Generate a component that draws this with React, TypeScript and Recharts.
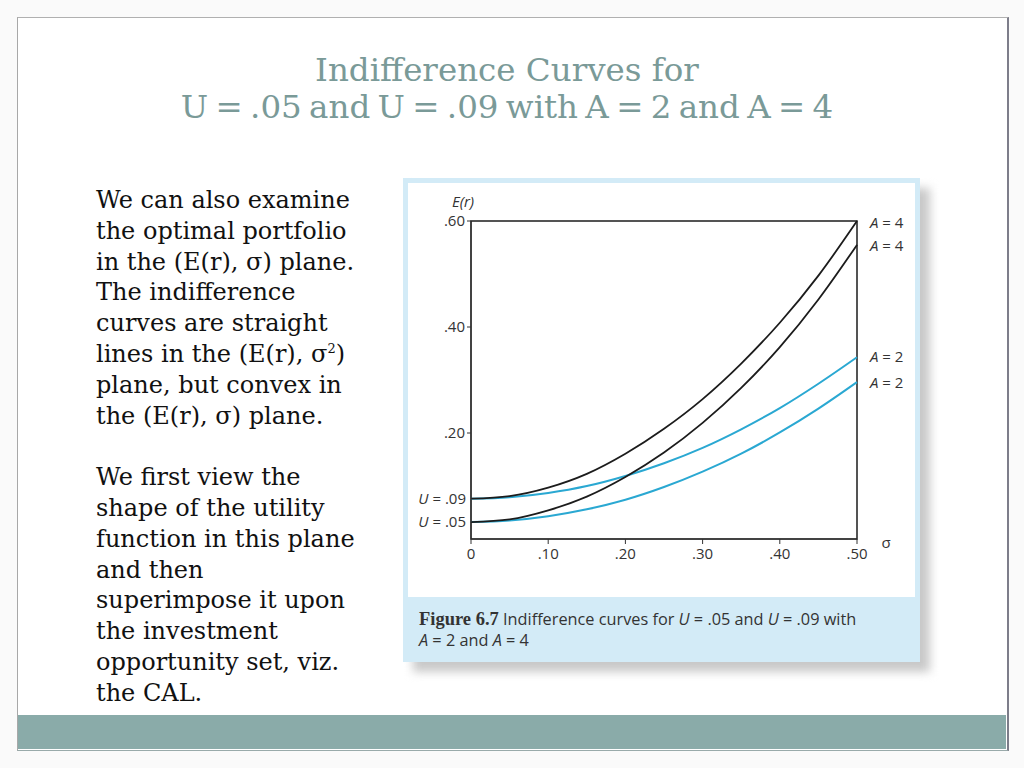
import React from "react";
import { LineChart, Line, XAxis, YAxis, ReferenceArea, ReferenceDot, Label } from "recharts";

// sigma on the x axis, E(r)
const sigma = [0, 0.05, 0.1, 0.15, 0.2, 0.25, 0.3, 0.35, 0.4, 0.45, 0.5];
const a4u09 = [0.076, 0.081, 0.097, 0.123, 0.161, 0.208, 0.264, 0.331, 0.408, 0.497, 0.6];
const a4u05 = [0.032, 0.037, 0.054, 0.08, 0.117, 0.163, 0.219, 0.285, 0.362, 0.452, 0.555];
const a2u09 = [0.076, 0.079, 0.087, 0.1, 0.119, 0.143, 0.172, 0.207, 0.247, 0.293, 0.343];
const a2u05 = [0.032, 0.035, 0.043, 0.056, 0.074, 0.098, 0.127, 0.161, 0.201, 0.246, 0.296];

const xTicks = [0, 0.1, 0.2, 0.3, 0.4, 0.5];
const yTicks = [0.2, 0.4, 0.6];
const uLabels = [".09", ".05"];
const endLabels = ["4", "4", "2", "2"];

const leftText1 = [
  "We can also examine",
  "the optimal portfolio",
  "in the (E(r), \u03c3) plane.",
  "The indifference",
  "curves are straight",
];
const leftText2 = [
  "We first view the",
  "shape of the utility",
  "function in this plane",
  "and then",
  "superimpose it upon",
  "the investment",
  "opportunity set, viz.",
  "the CAL.",
];

const data = sigma.map((s, i) => ({
  s,
  a4u09: a4u09[i],
  a4u05: a4u05[i],
  a2u09: a2u09[i],
  a2u05: a2u05[i],
}));

const BLACK = "#1c1c1c";
const BLUE = "#2aa8d2";
const FONT = "'Open Sans', 'Noto Sans', sans-serif";
const fmt = (v: number) => (v === 0 ? "0" : "." + Math.round(v * 100).toString().padStart(2, "0"));

const starts = [a4u09[0], a4u05[0]];
const ends = [
  { y: a4u09[a4u09.length - 1], dy: 2 },
  { y: a4u05[a4u05.length - 1], dy: 1 },
  { y: a2u09[a2u09.length - 1], dy: 0 },
  { y: a2u05[a2u05.length - 1], dy: 1 },
];

function Chart() {
  return (
    <LineChart
      width={512}
      height={415}
      data={data}
      margin={{ top: 38, right: 58, left: 38, bottom: 29 }}
      style={{ fontFamily: FONT }}
    >
      <XAxis
        dataKey="s"
        type="number"
        domain={[0, 0.5]}
        ticks={xTicks}
        tickFormatter={fmt}
        tick={{ fill: "#333", fontSize: 15 }}
        stroke="#333"
        tickSize={5}
        tickMargin={4}
        height={30}
      >
        <Label
          content={({ viewBox }: any) => (
            <text x={viewBox.x + viewBox.width + 29} y={viewBox.y + 9} fill="#333" fontSize={15} textAnchor="middle">
              σ
            </text>
          )}
        />
      </XAxis>
      <YAxis
        type="number"
        domain={[0, 0.6]}
        ticks={yTicks}
        tickFormatter={fmt}
        tick={{ fill: "#333", fontSize: 15 }}
        stroke="#333"
        tickSize={4}
        tickMargin={2}
        width={30}
      >
        <Label
          content={({ viewBox }: any) => (
            <text x={viewBox.x + viewBox.width - 8} y={viewBox.y - 14} fill="#333" fontSize={15} fontStyle="italic" textAnchor="middle">
              E(r)
            </text>
          )}
        />
      </YAxis>
      <ReferenceArea x1={0} x2={0.5} y1={0} y2={0.6} fill="none" stroke={BLACK} strokeWidth={1.5} ifOverflow="visible" />
      <Line dataKey="a2u05" type="monotone" stroke={BLUE} strokeWidth={2} dot={false} isAnimationActive={false} />
      <Line dataKey="a2u09" type="monotone" stroke={BLUE} strokeWidth={2} dot={false} isAnimationActive={false} />
      <Line dataKey="a4u05" type="monotone" stroke={BLACK} strokeWidth={1.8} dot={false} isAnimationActive={false} />
      <Line dataKey="a4u09" type="monotone" stroke={BLACK} strokeWidth={1.8} dot={false} isAnimationActive={false} />
      {starts.map((u, i) => (
        <ReferenceDot key={"u" + i} x={0} y={u} r={0} fill="none" stroke="none" ifOverflow="visible">
          <Label
            content={({ viewBox }: any) => (
              <text x={viewBox.x - 5} y={viewBox.y + 5} fill="#333" fontSize={15} textAnchor="end">
                <tspan fontStyle="italic">U</tspan> = {uLabels[i]}
              </text>
            )}
          />
        </ReferenceDot>
      ))}
      {ends.map((e, i) => (
        <ReferenceDot key={"e" + i} x={0.5} y={e.y} r={0} fill="none" stroke="none" ifOverflow="visible">
          <Label
            content={({ viewBox }: any) => (
              <text x={viewBox.x + 13} y={viewBox.y + 5 + e.dy} fill="#333" fontSize={15} textAnchor="start">
                <tspan fontStyle="italic">A</tspan> = {endLabels[i]}
              </text>
            )}
          />
        </ReferenceDot>
      ))}
    </LineChart>
  );
}

export default function App() {
  const serif = "'DejaVu Serif', 'Liberation Serif', serif";
  const lineH = 30.8;
  return (
    <div style={{ position: "absolute", left: 0, top: 0, width: 1024, height: 768, background: "#fafafa", overflow: "hidden" }}>
      <div
        style={{
          position: "absolute",
          left: 17,
          top: 17,
          width: 989,
          height: 732,
          background: "#fff",
          borderLeft: "1px solid #a8a8a8",
          borderTop: "1px solid #b0b0b0",
          borderRight: "2px solid #7d7d8a",
          borderBottom: "1px solid #9aa",
        }}
      />
      <div style={{ position: "absolute", left: 18, top: 715, width: 988, height: 34, background: "#8aaba9" }} />
      <div
        style={{
          position: "absolute",
          left: 0,
          width: 1014,
          top: 52,
          textAlign: "center",
          fontFamily: serif,
          fontSize: 32.5,
          lineHeight: "37px",
          color: "#7a9a98",
        }}
      >
        <div>Indifference Curves for</div>
        <div style={{ wordSpacing: -3 }}>U = .05 and U = .09 with A = 2 and A = 4</div>
      </div>
      <div
        style={{
          position: "absolute",
          left: 96,
          top: 185,
          fontFamily: serif,
          fontSize: 24,
          lineHeight: lineH + "px",
          color: "#111",
          whiteSpace: "nowrap",
        }}
      >
        {leftText1.map((t) => (
          <div key={t}>{t}</div>
        ))}
        <div>
          lines in the (E(r), σ<sup style={{ fontSize: 13, lineHeight: 0 }}>2</sup>)
        </div>
        <div>plane, but convex in</div>
        <div>the (E(r), σ) plane.</div>
        <div>&nbsp;</div>
        {leftText2.map((t) => (
          <div key={t}>{t}</div>
        ))}
      </div>
      {/* figure box */}
      <div style={{ position: "absolute", left: 413, top: 188, width: 517, height: 484, background: "#c9c9c9", filter: "blur(5px)" }} />
      <div style={{ position: "absolute", left: 403, top: 178, width: 517, height: 484, background: "#d3ebf7" }} />
      <div style={{ position: "absolute", left: 408, top: 183, width: 507, height: 414, background: "#fff" }} />
      <div style={{ position: "absolute", left: 403, top: 183 }}>
        <Chart />
      </div>
      <div
        style={{
          position: "absolute",
          left: 419,
          top: 609,
          fontFamily: FONT,
          fontSize: 16.3,
          lineHeight: "21px",
          color: "#333",
          whiteSpace: "nowrap",
        }}
      >
        <div>
          <span style={{ fontFamily: "'Liberation Serif', serif", fontWeight: "bold", fontSize: 18.5 }}>Figure 6.7</span>
          {"  "}Indifference curves for <i>U</i> = .05 and <i>U</i> = .09 with
        </div>
        <div>
          <i>A</i> = 2 and <i>A</i> = 4
        </div>
      </div>
    </div>
  );
}
